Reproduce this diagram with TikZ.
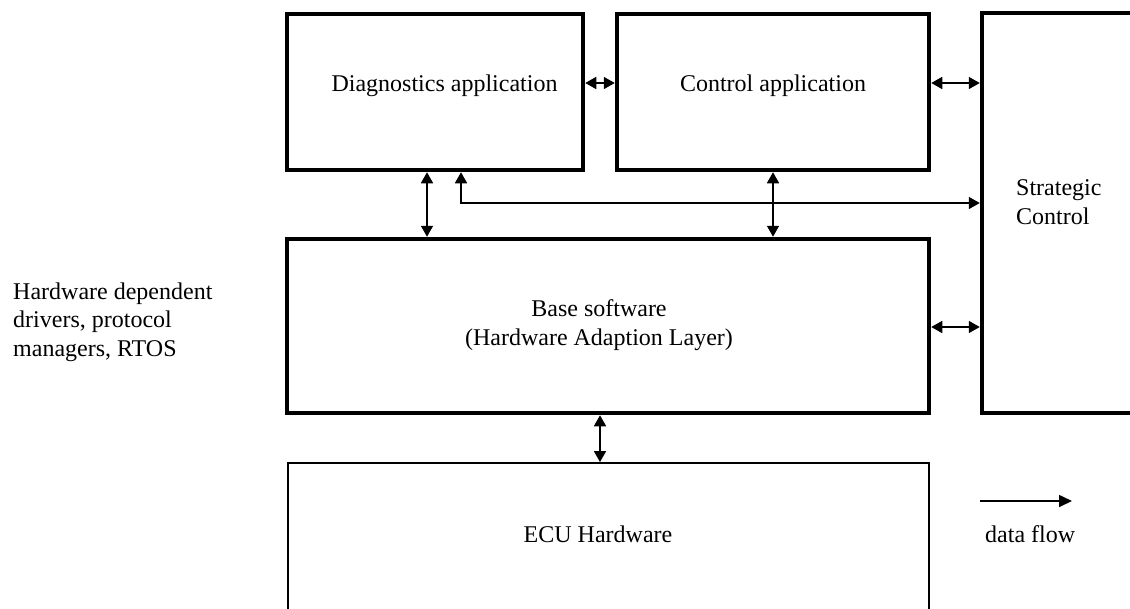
\documentclass[tikz,border=0pt]{standalone}
\usepackage{fontspec}
\setmainfont{Liberation Serif}
\usetikzlibrary{arrows.meta,fit}
\begin{document}
\begin{tikzpicture}[x=1pt,y=-1pt,
  font=\fontsize{24}{28.5}\selectfont,
  thickbox/.style={draw=black,line width=4.5pt,inner sep=0pt},
  thinbox/.style={draw=black,line width=1.8pt,inner sep=0pt},
  lbl/.style={inner sep=0pt,text=black},
  flow/.style={line width=1.6pt,{Triangle[length=11pt,width=12pt]}-{Triangle[length=11pt,width=12pt]}},
  oneway/.style={line width=1.6pt,-{Triangle[length=13pt,width=12pt]}}]
\clip (0,0) rectangle (1130,608);
\fill[white] (0,0) rectangle (1130,608);
% boxes
\node[thickbox,fit={(287,14) (583,170)}] (diag) {};
\node[thickbox,fit={(617,14) (929,170)}] (ctrl) {};
\node[thickbox,fit={(982,13) (1160,413)}] (strat) {};
\node[thickbox,fit={(287,239) (929,413)}] (base) {};
\node[thinbox,fit={(288,463) (929,640)}] (ecu) {};
% texts
\node[lbl,anchor=base] (diagtxt) at (444.5,91) {Diagnostics application};
\node[lbl,anchor=base] (ctrltxt) at (773,91) {Control application};
\node[lbl,anchor=base west,align=left] (strattxt) at (1016,224) {Strategic\\Control};
\node[lbl,anchor=base,align=center] (basetxt) at (599,345) {Base software\\(Hardware Adaption Layer)};
\node[lbl,anchor=base] (ecutxt) at (598,542) {ECU Hardware};
\node[lbl,anchor=base west,align=left] (hwtxt) at (13,356) {Hardware dependent\\drivers, protocol\\managers, RTOS};
\node[lbl,anchor=base west] (flowtxt) at (985,542) {data flow};
% connectors
\draw[flow] (diag.east |- 0,83) -- (ctrl.west |- 0,83);
\draw[flow] (ctrl.east |- 0,83) -- (strat.west |- 0,83);
\draw[flow] (diag.south -| 427,0) -- (base.north -| 427,0);
\draw[flow] (diag.south -| 461,0) -- (461,203) -- (strat.west |- 0,203);
\draw[flow] (ctrl.south -| 773,0) -- (base.north -| 773,0);
\draw[flow] (base.east |- 0,327) -- (strat.west |- 0,327);
\draw[flow] (base.south -| 600,0) -- (ecu.north -| 600,0);
% legend
\coordinate (lgA) at (980,501);
\coordinate (lgB) at (1072,501);
\draw[oneway] (lgA) -- (lgB);
\end{tikzpicture}
\end{document}
